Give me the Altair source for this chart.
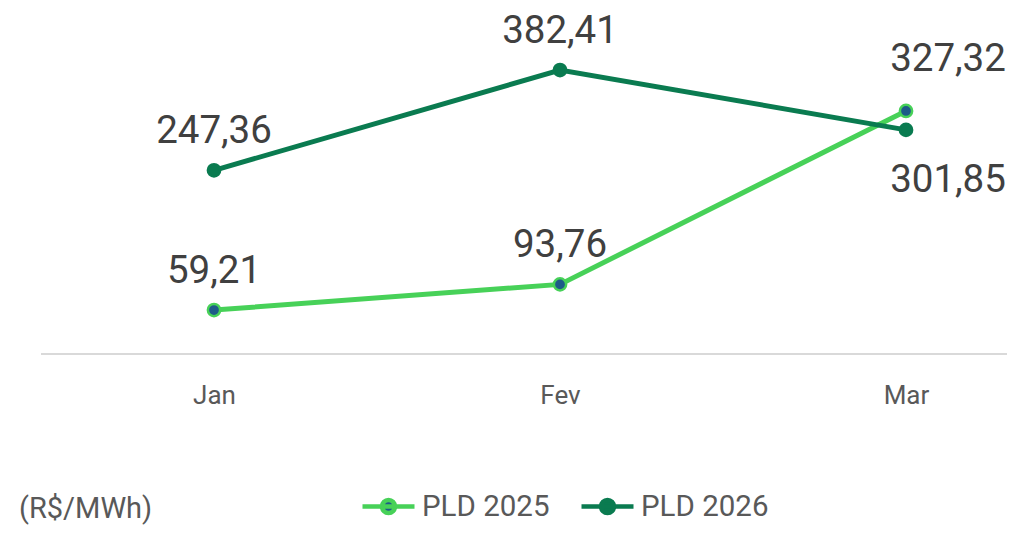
import altair as alt
import pandas as pd

months = ["Jan", "Fev", "Mar"]
pld_2025 = [59.21, 93.76, 327.32]
pld_2026 = [247.36, 382.41, 301.85]
series_names = ["PLD 2025", "PLD 2026"]
unit_label = "(R$/MWh)"

rows = []
for s, vals in zip(series_names, [pld_2025, pld_2026]):
    for m, v in zip(months, vals):
        rows.append({"mes": m, "serie": s, "valor": v,
                     "rotulo": f"{v:.2f}".replace(".", ",")})
df = pd.DataFrame(rows)

LIGHT = "#47d158"
DARK = "#0a7b50"
BLUE = "#1d5b88"
FONT = "Roboto"

x = alt.X("mes:N", sort=months,
          scale=alt.Scale(type="point", range=[173, 865], padding=0),
          axis=alt.Axis(title=None, domain=False, ticks=False, grid=False,
                        labelFontSize=26, labelColor="#595959", labelFont=FONT,
                        labelPadding=28, labelAngle=0))
yscale = alt.Scale(domain=[0, 400], nice=False)
y = alt.Y("valor:Q", scale=yscale, axis=None)

legend_path = ("M-1,0H1M0.25,0A0.25,0.25 0 1,1 -0.25,0"
               "A0.25,0.25 0 1,1 0.25,0")

color = alt.Color("serie:N", sort=series_names,
                  scale=alt.Scale(domain=series_names, range=[LIGHT, DARK]),
                  legend=alt.Legend(title=None, orient="none", direction="horizontal",
                                    legendX=319, legendY=421,
                                    symbolType=legend_path, symbolSize=2704,
                                    symbolStrokeWidth=4.5, labelFontSize=29.5,
                                    labelFont=FONT, labelColor="#595959",
                                    labelOffset=5, columnPadding=22,
                                    symbolFillColor=BLUE))

base = alt.Chart(df)

baseline = alt.Chart(pd.DataFrame({"v": [0]})).mark_rule(
    color="#d9d9d9", strokeWidth=2
).encode(x=alt.value(0), x2=alt.value(966), y=alt.Y("v:Q", scale=yscale, axis=None))

lines = base.mark_line(strokeWidth=5).encode(x=x, y=y, color=color)

pts = base.mark_point(filled=True, size=150, strokeWidth=2.5, opacity=1).encode(
    x=x, y=y,
    fill=alt.Fill("serie:N", scale=alt.Scale(domain=series_names, range=[BLUE, DARK]), legend=None),
    stroke=alt.Stroke("serie:N", scale=alt.Scale(domain=series_names, range=[LIGHT, DARK]), legend=None),
)

txt_style = dict(fontSize=38.5, font=FONT, color="#404040", baseline="middle")

labels_above = base.mark_text(dy=-39, **txt_style).encode(
    x=x, y=y, text="rotulo:N"
).transform_filter(alt.datum.mes != months[2])

label_mar_25 = base.mark_text(dy=-52, dx=42, **txt_style).encode(
    x=x, y=y, text="rotulo:N"
).transform_filter((alt.datum.mes == months[2]) & (alt.datum.serie == series_names[0]))

label_mar_26 = base.mark_text(dy=50, dx=42, **txt_style).encode(
    x=x, y=y, text="rotulo:N"
).transform_filter((alt.datum.mes == months[2]) & (alt.datum.serie == series_names[1]))

chart = alt.layer(baseline, lines, pts, labels_above, label_mar_25, label_mar_26).properties(
    width=966, height=297,
    autosize=alt.AutoSizeParams(type="none"),
    padding={"left": 33, "top": 49, "right": 0, "bottom": 173},
    title=alt.TitleParams(unit_label, orient="bottom", anchor="start", fontSize=29,
                          font=FONT, color="#595959", fontWeight="normal",
                          dx=-21, offset=-27),
).configure_view(stroke=None)

chart.save("out.html", embed_options={"renderer": "svg", "actions": False})
